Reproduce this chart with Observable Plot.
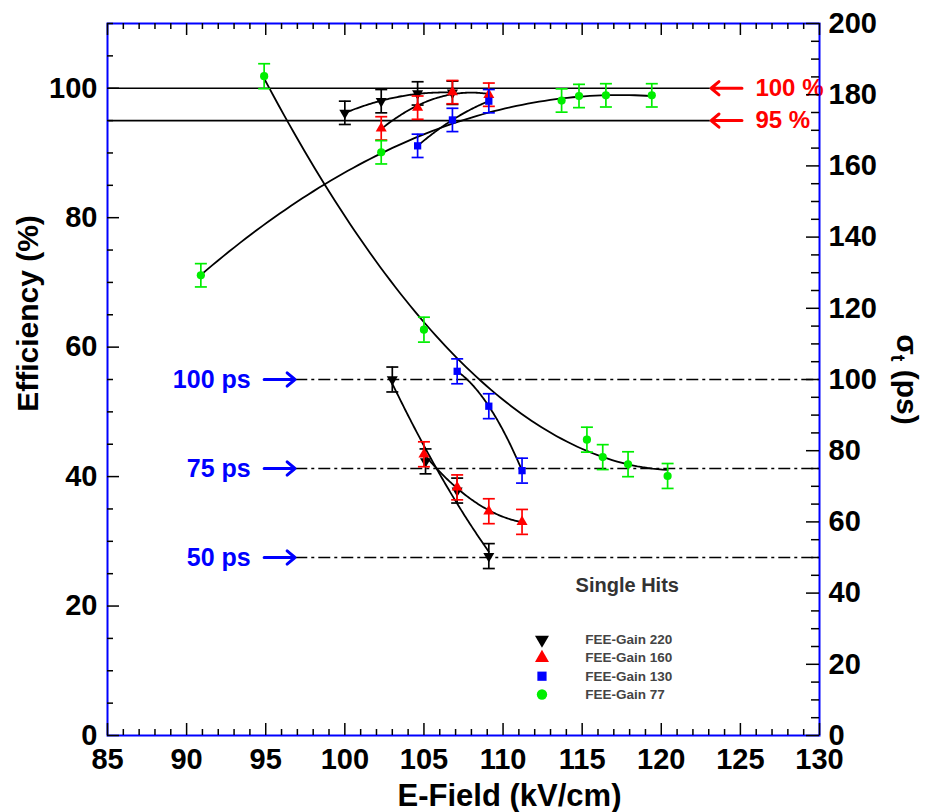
<!DOCTYPE html>
<html><head><meta charset="utf-8">
<script src="https://cdn.jsdelivr.net/npm/d3@7"></script>
<script src="https://cdn.jsdelivr.net/npm/@observablehq/plot@0.6"></script>
<style>
html,body{margin:0;padding:0;background:#fff;overflow:hidden;}
#chart{width:927px;height:812px;}
</style></head><body><div id="chart"></div>
<script>
// ---------- Data ----------
const seriesNames   = ["FEE-Gain 220", "FEE-Gain 160", "FEE-Gain 130", "FEE-Gain 77"];
const seriesColors  = ["#000000", "#ff0000", "#0000ff", "#00ee00"];
const seriesSymbols = ["triangle", "triangle", "square", "circle"];
const seriesRotate  = [180, 0, 0, 0];

// Efficiency (%) vs E-Field (kV/cm)
const effField220 = [100.0, 102.3, 104.6, 106.8];
const eff220      = [96.2, 98.0, 99.2, 99.3];
const effField160 = [102.3, 104.6, 106.8, 109.1];
const eff160      = [93.8, 97.0, 99.4, 99.0];
const effField130 = [104.6, 106.8, 109.1];
const eff130      = [91.1, 95.1, 98.0];
const effField77  = [90.9, 102.3, 113.7, 114.8, 116.5, 119.4];
const eff77       = [71.1, 90.1, 98.1, 98.8, 98.9, 98.9];
const effErr = 1.8;

// Time resolution sigma_t (ps) vs E-Field (kV/cm)
const sigField220 = [103.0, 105.1, 107.1, 109.1];
const sig220      = [100.0, 77.0, 68.8, 50.4];
const sigField160 = [105.0, 107.1, 109.1, 111.2];
const sig160      = [79.0, 69.7, 63.0, 60.0];
const sigField130 = [107.1, 109.1, 111.2];
const sig130      = [102.3, 92.5, 74.4];
const sigField77  = [94.9, 105.0, 115.3, 116.3, 117.9, 120.4];
const sig77       = [185.2, 114.0, 83.1, 78.2, 76.2, 72.9];
const sigErr = 3.5;

const effRefs   = [100, 95];      // %
const sigmaRefs = [100, 75, 50];  // ps

const xMajorTicks   = d3.range(85, 131, 5);
const xMinorTicks   = d3.range(85, 131, 1).filter(v => v % 5 !== 0);
const effMajorTicks = d3.range(0, 101, 20);
const effMinorTicks = d3.range(0, 111, 5).filter(v => v % 20 !== 0);
const sigMajorTicks = d3.range(0, 201, 20);
const sigMinorTicks = d3.range(0, 201, 5).filter(v => v % 20 !== 0);

// ---------- Layout ----------
const W = 927, H = 812;
const mL = 107, mR = 108, mT = 23, mB = 77;
const frameW = W - mL - mR, frameH = H - mT - mB;
const effMax = 110, sigMax = 200;
const toY = s => s * effMax / sigMax;   // map right-axis ps onto left-axis scale

const effFields = [effField220, effField160, effField130, effField77];
const effVals   = [eff220, eff160, eff130, eff77];
const sigFields = [sigField220, sigField160, sigField130, sigField77];
const sigVals   = [sig220, sig160, sig130, sig77];

function rowsFor(i) {
  const a = effFields[i].map((x, k) => ({x, y: effVals[i][k], err: effErr}));
  const b = sigFields[i].map((x, k) => ({x, y: toY(sigVals[i][k]), err: toY(sigErr)}));
  return [a, b];
}

// least-squares quadratic fit of the measured points (the fit curves of the figure)
function quadFit(rows) {
  const m = d3.mean(rows, r => r.x);
  let S = [0, 0, 0, 0, 0], T = [0, 0, 0];
  for (const r of rows) {
    const u = r.x - m;
    for (let p = 0; p < 5; p++) S[p] += u ** p;
    for (let p = 0; p < 3; p++) T[p] += r.y * u ** p;
  }
  const A = [[S[0], S[1], S[2], T[0]], [S[1], S[2], S[3], T[1]], [S[2], S[3], S[4], T[2]]];
  for (let c = 0; c < 3; c++) {
    for (let r = c + 1; r < 3; r++) {
      const f = A[r][c] / A[c][c];
      for (let k = c; k < 4; k++) A[r][k] -= f * A[c][k];
    }
  }
  const coef = [0, 0, 0];
  for (let r = 2; r >= 0; r--) {
    let s = A[r][3];
    for (let k = r + 1; k < 3; k++) s -= A[r][k] * coef[k];
    coef[r] = s / A[r][r];
  }
  const [x0, x1] = d3.extent(rows, r => r.x);
  const n = 80;
  return d3.range(n + 1).map(j => {
    const x = x0 + (x1 - x0) * j / n, u = x - m;
    return {x, y: coef[0] + coef[1] * u + coef[2] * u * u};
  });
}

const capSymbol = {draw(ctx, size) { const w = Math.sqrt(size / Math.PI); ctx.moveTo(-w, 0); ctx.lineTo(w, 0); }};

const marks = [];
// reference lines
marks.push(Plot.ruleY(effRefs, {y: d => d, x1: 85, x2: 123.1, stroke: "#000", strokeWidth: 1.6}));
marks.push(Plot.ruleY(sigmaRefs, {y: d => toY(d), x1: 96.9, x2: 130, stroke: "#000", strokeWidth: 1.5, strokeDasharray: "12,4,3,4"}));
marks.push(Plot.arrow(effRefs, {x1: 125.1, x2: 123.15, y1: d => d, y2: d => d, stroke: "#ff0000", strokeWidth: 3, headLength: 13, headAngle: 80}));
marks.push(Plot.arrow(sigmaRefs, {x1: 94.9, x2: 96.85, y1: d => toY(d), y2: d => toY(d), stroke: "#0000ff", strokeWidth: 3, headLength: 13, headAngle: 80}));
marks.push(Plot.text(effRefs, {x: 125.95, y: d => d, text: d => d + " %", textAnchor: "start", fill: "#ff0000", fontSize: 24, fontWeight: "bold"}));
marks.push(Plot.text(sigmaRefs, {x: 94.05, y: d => toY(d), text: d => d + " ps", textAnchor: "end", fill: "#0000ff", fontSize: 25, fontWeight: "bold"}));

// series fits
for (let i = 0; i < 4; i++) {
  for (const rows of rowsFor(i)) {
    marks.push(Plot.line(quadFit(rows), {x: "x", y: "y", stroke: "#000", strokeWidth: 1.8}));
  }
}
// error bars and markers
for (let i = 0; i < 4; i++) {
  const c = seriesColors[i];
  for (const rows of rowsFor(i)) {
    marks.push(Plot.ruleX(rows, {x: "x", y1: d => d.y - d.err, y2: d => d.y + d.err, stroke: c, strokeWidth: 1.7}));
    marks.push(Plot.dot(rows, {x: "x", y: d => d.y - d.err, symbol: capSymbol, r: 6, fill: "none", stroke: c, strokeWidth: 1.7}));
    marks.push(Plot.dot(rows, {x: "x", y: d => d.y + d.err, symbol: capSymbol, r: 6, fill: "none", stroke: c, strokeWidth: 1.7}));
    marks.push(Plot.dot(rows, {x: "x", y: "y", symbol: seriesSymbols[i], rotate: seriesRotate[i], r: 4.1, fill: c, stroke: "none"}));
  }
}

// frame & ticks (inward)
marks.push(Plot.frame({stroke: "#0000ff", strokeWidth: 2}));
marks.push(Plot.tickX(xMajorTicks, {x: d => d, insetTop: frameH - 12, stroke: "#000", strokeWidth: 1.5}));
marks.push(Plot.tickX(xMinorTicks, {x: d => d, insetTop: frameH - 6, stroke: "#000", strokeWidth: 1.5}));
marks.push(Plot.tickX(xMajorTicks, {x: d => d, insetBottom: frameH - 12, stroke: "#000", strokeWidth: 1.5}));
marks.push(Plot.tickX(xMinorTicks, {x: d => d, insetBottom: frameH - 6, stroke: "#000", strokeWidth: 1.5}));
marks.push(Plot.tickY(effMajorTicks, {y: d => d, insetRight: frameW - 12, stroke: "#000", strokeWidth: 1.5}));
marks.push(Plot.tickY(effMinorTicks, {y: d => d, insetRight: frameW - 6, stroke: "#000", strokeWidth: 1.5}));
marks.push(Plot.tickY(sigMajorTicks, {y: d => toY(d), insetLeft: frameW - 13, stroke: "#000", strokeWidth: 1.5}));
marks.push(Plot.tickY(sigMinorTicks, {y: d => toY(d), insetLeft: frameW - 8, stroke: "#000", strokeWidth: 1.5}));

// axes labels
marks.push(Plot.axisX(xMajorTicks, {tickSize: 0, tickPadding: 13, fontSize: 29, fontWeight: "bold", label: null}));
marks.push(Plot.axisY(effMajorTicks, {anchor: "left", tickSize: 0, tickPadding: 10, fontSize: 29, fontWeight: "bold", label: null}));
marks.push(Plot.axisY(sigMajorTicks.map(toY), {anchor: "right", tickSize: 0, tickPadding: 9, fontSize: 29, fontWeight: "bold", label: null, tickFormat: d => String(Math.round(d * sigMax / effMax))}));

// axis titles
marks.push(Plot.text(["Efficiency (%)"], {frameAnchor: "left", text: d => d, rotate: -90, textAnchor: "middle", lineAnchor: "middle", dx: -79, dy: -66, fontSize: 30, fontWeight: "bold"}));
marks.push(Plot.text(["E-Field (kV/cm)"], {frameAnchor: "bottom", text: d => d, textAnchor: "middle", lineAnchor: "middle", dx: 46, dy: 61, fontSize: 31, fontWeight: "bold"}));
marks.push(Plot.text(["SIGMA_LABEL"], {frameAnchor: "right", text: d => d, rotate: 90, textAnchor: "middle", lineAnchor: "middle", dx: 87, dy: 0, fontSize: 30, fontWeight: "bold"}));

// annotations & legend
marks.push(Plot.text(["Single Hits"], {x: 117.85, y: 23.2, text: d => d, fontSize: 20, fontWeight: "bold", fill: "#333"}));
const legendIdx = [0, 1, 2, 3];
for (const i of legendIdx) {
  marks.push(Plot.dot([i], {x: 112.46, y: 14.8 - i * 2.82, symbol: seriesSymbols[i], rotate: seriesRotate[i], r: 5.2, fill: seriesColors[i], stroke: "none"}));
}
marks.push(Plot.text(legendIdx, {x: 115.2, y: i => 14.8 - i * 2.82, text: i => seriesNames[i], textAnchor: "start", fontSize: 13.5, fontWeight: "bold", fill: "#444"}));

const chart = Plot.plot({
  width: W, height: H,
  marginLeft: mL, marginRight: mR, marginTop: mT, marginBottom: mB,
  x: {domain: [85, 130]},
  y: {domain: [0, effMax]},
  style: {fontFamily: "'Liberation Sans', Arial, Helvetica, sans-serif", background: "#fff", color: "#000"},
  marks
});

// subscript t in sigma label
chart.querySelectorAll("text").forEach(t => {
  if (t.textContent === "SIGMA_LABEL") {
    t.textContent = "";
    const ns = "http://www.w3.org/2000/svg";
    const a = document.createElementNS(ns, "tspan"); a.textContent = "σ";
    const b = document.createElementNS(ns, "tspan"); b.textContent = "t"; b.setAttribute("font-size", "20"); b.setAttribute("dy", "6");
    const c = document.createElementNS(ns, "tspan"); c.textContent = " (ps)"; c.setAttribute("dy", "-6");
    t.append(a, b, c);
  }
});
document.getElementById("chart").append(chart);
</script></body></html>
